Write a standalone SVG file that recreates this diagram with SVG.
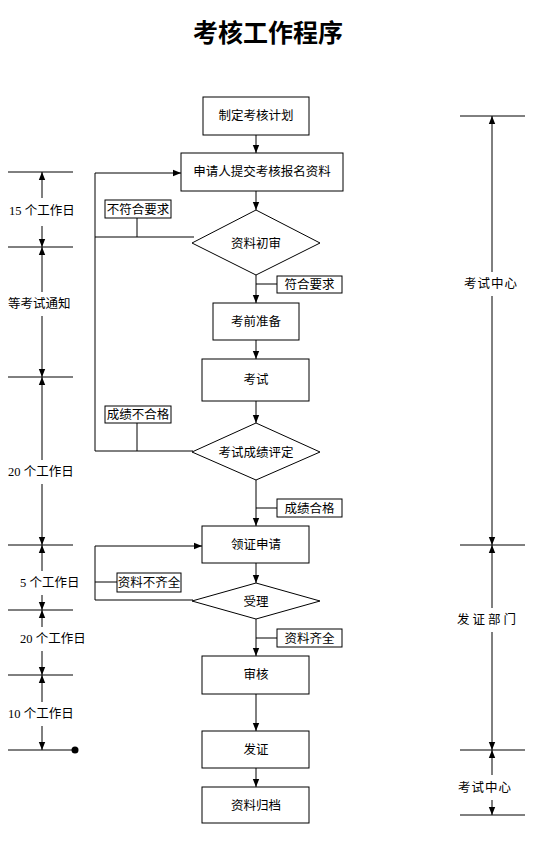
<svg xmlns="http://www.w3.org/2000/svg" width="537" height="852" viewBox="0 0 537 852">
<style>
.box{fill:#fff;stroke:#000;stroke-width:1}
.lbl{fill:#fff;stroke:#000;stroke-width:1}
.t{font-family:"Noto Sans CJK SC","Liberation Sans",sans-serif;font-size:12.5px;fill:#000;text-anchor:middle}
.tl{font-family:"Liberation Serif","Noto Sans CJK SC",serif;font-size:12.5px;fill:#000}
.ln{stroke:#000;stroke-width:1;fill:none}
.ar{stroke:#000;stroke-width:1;fill:none;marker-end:url(#ah)}
.title{font-family:"Noto Sans CJK SC",sans-serif;font-size:25px;font-weight:bold;text-anchor:middle;fill:#000}
</style>
<defs>
<marker id="ah" viewBox="0 0 10 10" refX="10" refY="5" markerWidth="8" markerHeight="8" markerUnits="userSpaceOnUse" orient="auto"><path d="M0,1 L10,5 L0,9 z" fill="#000"/></marker>
</defs>
<rect width="537" height="852" fill="#fff"/>
<text class="title" x="268" y="42">考核工作程序</text>

<g id="connectors">
<line class="ar" x1="256" y1="135" x2="256" y2="153"/>
<line class="ar" x1="256" y1="191" x2="256" y2="210"/>
<line class="ar" x1="256" y1="275" x2="256" y2="303"/>
<line class="ar" x1="256" y1="340" x2="256" y2="359"/>
<line class="ar" x1="256" y1="401" x2="256" y2="423"/>
<line class="ar" x1="256" y1="480" x2="256" y2="526"/>
<line class="ar" x1="256" y1="563" x2="256" y2="583"/>
<line class="ar" x1="256" y1="619" x2="256" y2="656"/>
<line class="ar" x1="256" y1="694" x2="256" y2="731"/>
<line class="ar" x1="256" y1="768" x2="256" y2="787"/>
<!-- label stubs -->
<line class="ln" x1="256" y1="284" x2="277" y2="284"/>
<line class="ln" x1="256" y1="508" x2="277" y2="508"/>
<line class="ln" x1="256" y1="638" x2="277" y2="638"/>
<!-- loops -->
<polyline class="ln" points="194,237 95,237 95,173"/>
<line class="ar" x1="95" y1="173" x2="181" y2="173"/>
<polyline class="ln" points="193,451 95,451 95,237"/>
<line class="ln" x1="137" y1="218" x2="137" y2="237"/>
<line class="ln" x1="137" y1="423" x2="137" y2="451"/>
<polyline class="ln" points="193,600 95,600 95,546"/>
<line class="ar" x1="95" y1="546" x2="202" y2="546"/>
<line class="ln" x1="95" y1="582" x2="117" y2="582"/>
</g>

<g id="n1"><rect class="box" x="203" y="97" width="106" height="38"/><text class="t" x="256" y="120">制定考核计划</text></g>
<g id="n2"><rect class="box" x="181" y="153" width="162" height="38"/><text class="t" x="262" y="176">申请人提交考核报名资料</text></g>
<g id="n3"><polygon class="box" points="256,210 320,243 256,275 192,243"/><text class="t" x="256" y="248">资料初审</text></g>
<g id="l1"><rect class="lbl" x="277" y="276" width="65" height="17"/><text class="t" x="309.5" y="289">符合要求</text></g>
<g id="n4"><rect class="box" x="213" y="303" width="86" height="37"/><text class="t" x="256" y="326">考前准备</text></g>
<g id="n5"><rect class="box" x="202" y="359" width="107" height="42"/><text class="t" x="256" y="384">考试</text></g>
<g id="n6"><polygon class="box" points="256,423 320,452 256,480 192,452"/><text class="t" x="256" y="457">考试成绩评定</text></g>
<g id="l2"><rect class="lbl" x="277" y="499" width="65" height="18"/><text class="t" x="309.5" y="512.5">成绩合格</text></g>
<g id="n7"><rect class="box" x="202" y="526" width="107" height="37"/><text class="t" x="256" y="549">领证申请</text></g>
<g id="n8"><polygon class="box" points="256,583 320,601 256,619 192,601"/><text class="t" x="256" y="606">受理</text></g>
<g id="l3"><rect class="lbl" x="277" y="629" width="65" height="18"/><text class="t" x="309.5" y="642.5">资料齐全</text></g>
<g id="n9"><rect class="box" x="202" y="656" width="107" height="38"/><text class="t" x="256" y="679">审核</text></g>
<g id="n10"><rect class="box" x="202" y="731" width="107" height="37"/><text class="t" x="256" y="754">发证</text></g>
<g id="n11"><rect class="box" x="202" y="787" width="107" height="36"/><text class="t" x="256" y="809.5">资料归档</text></g>
<g id="l4"><rect class="lbl" x="105" y="200" width="66" height="18"/><text class="t" x="138" y="213.5">不符合要求</text></g>
<g id="l5"><rect class="lbl" x="105" y="406" width="66" height="17"/><text class="t" x="138" y="419">成绩不合格</text></g>
<g id="l6"><rect class="lbl" x="117" y="573" width="64" height="19"/><text class="t" x="149" y="587">资料不齐全</text></g>

<g id="left-timeline">
<line class="ln" x1="8" y1="172" x2="73" y2="172"/>
<line class="ln" x1="8" y1="247" x2="73" y2="247"/>
<line class="ln" x1="8" y1="377" x2="73" y2="377"/>
<line class="ln" x1="8" y1="545" x2="73" y2="545"/>
<line class="ln" x1="8" y1="610" x2="73" y2="610"/>
<line class="ln" x1="8" y1="675" x2="73" y2="675"/>
<line class="ln" x1="8" y1="750" x2="75" y2="750"/>
<circle cx="75" cy="750" r="3.5" fill="#000"/>
<line class="ar" x1="42" y1="198" x2="42" y2="172"/>
<line class="ar" x1="42" y1="226" x2="42" y2="247"/>
<line class="ar" x1="42" y1="292" x2="42" y2="247"/>
<line class="ar" x1="42" y1="316" x2="42" y2="377"/>
<line class="ar" x1="42" y1="460" x2="42" y2="377"/>
<line class="ar" x1="42" y1="484" x2="42" y2="545"/>
<line class="ar" x1="42" y1="571" x2="42" y2="545"/>
<line class="ar" x1="42" y1="595" x2="42" y2="610"/>
<line class="ar" x1="42" y1="627" x2="42" y2="610"/>
<line class="ar" x1="42" y1="651" x2="42" y2="675"/>
<line class="ar" x1="42" y1="702" x2="42" y2="675"/>
<line class="ar" x1="42" y1="726" x2="42" y2="750"/>
<text class="tl" x="9" y="215" xml:space="preserve">15 个工作日</text>
<text class="tl" x="8" y="308">等考试通知</text>
<text class="tl" x="8" y="476" xml:space="preserve">20 个工作日</text>
<text class="tl" x="20" y="587" xml:space="preserve">5 个工作日</text>
<text class="tl" x="20" y="643" xml:space="preserve">20 个工作日</text>
<text class="tl" x="8" y="718" xml:space="preserve">10 个工作日</text>
</g>

<g id="right-timeline">
<line class="ln" x1="460" y1="116" x2="525" y2="116"/>
<line class="ln" x1="460" y1="545" x2="525" y2="545"/>
<line class="ln" x1="460" y1="750" x2="525" y2="750"/>
<line class="ln" x1="460" y1="815" x2="525" y2="815"/>
<line class="ar" x1="492" y1="272" x2="492" y2="116"/>
<line class="ar" x1="492" y1="296" x2="492" y2="545"/>
<line class="ar" x1="492" y1="608" x2="492" y2="545"/>
<line class="ar" x1="492" y1="632" x2="492" y2="750"/>
<line class="ar" x1="492" y1="775" x2="492" y2="750"/>
<line class="ar" x1="492" y1="800" x2="492" y2="815"/>
<text class="t" x="491" y="288" style="letter-spacing:1px">考试中心</text>
<text class="t" x="488" y="624" style="letter-spacing:3px">发证部门</text>
<text class="t" x="485" y="792" style="letter-spacing:1px">考试中心</text>
</g>
</svg>
